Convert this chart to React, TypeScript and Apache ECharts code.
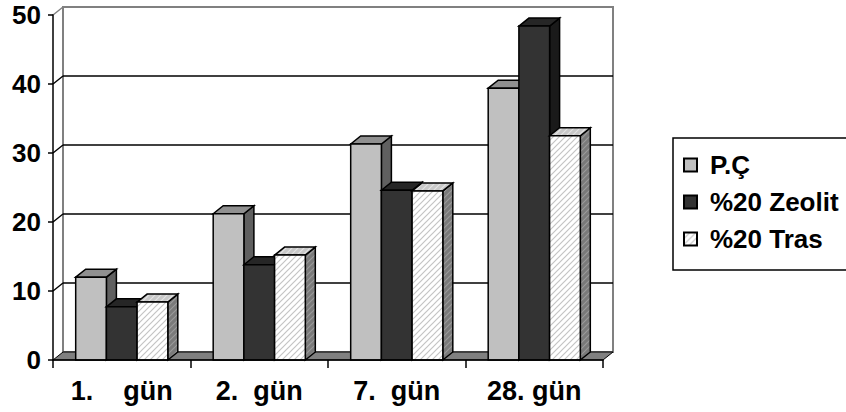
import React, { useEffect, useRef } from 'react';
import * as echarts from 'echarts';

const categories = ['1.\u00A0\u00A0\u00A0\u00A0gün', '2.\u00A0\u00A0gün', '7.\u00A0\u00A0gün', '28.\u00A0gün'];
const seriesNames = ['P.Ç', '%20 Zeolit', '%20 Tras'];
const pcValues = [12.0, 21.2, 31.3, 39.4];
const zeolitValues = [7.7, 13.8, 24.6, 48.4];
const trasValues = [8.4, 15.2, 24.5, 32.5];
const yTicks = [0, 10, 20, 30, 40, 50];

const FONT = 'Liberation Sans, Arial, sans-serif';
const DX = 10;
const DY = -8;

function hatch(bg: string, line: string, size = 6, lw = 1.2) {
  const c = document.createElement('canvas');
  c.width = size;
  c.height = size;
  const ctx = c.getContext('2d')!;
  ctx.fillStyle = bg;
  ctx.fillRect(0, 0, size, size);
  ctx.strokeStyle = line;
  ctx.lineWidth = lw;
  ctx.beginPath();
  ctx.moveTo(0, size);
  ctx.lineTo(size, 0);
  ctx.moveTo(-size / 2, size / 2);
  ctx.lineTo(size / 2, -size / 2);
  ctx.moveTo(size / 2, size * 1.5);
  ctx.lineTo(size * 1.5, size / 2);
  ctx.stroke();
  return { image: c, repeat: 'repeat' };
}

export default function App() {
  const ref = useRef<HTMLDivElement>(null);
  useEffect(() => {
    if (!ref.current) return;
    const chart = echarts.init(ref.current, null, { renderer: 'svg' });

    const faces = [
      { front: '#C0C0C0', top: '#909090', side: '#606060' },
      { front: '#333333', top: '#262626', side: '#1a1a1a' },
      {
        front: hatch('#ffffff', '#c4c4c4'),
        top: hatch('#c8c8c8', '#e4e4e4'),
        side: hatch('#7a7a7a', '#9a9a9a'),
      },
    ];
    const valueSets = [pcValues, zeolitValues, trasValues];

    const makeRender = (idx: number) => (params: any, api: any) => {
      const ci = api.value(0);
      const v = api.value(1);
      const base = api.coord([ci, 0]);
      const top = api.coord([ci, v]);
      const band = api.size([1, 0])[0];
      const bw = band * 0.2233;
      const x0 = base[0] - 1.5 * bw + idx * bw;
      const x1 = x0 + bw;
      const yb = base[1];
      const yt = top[1];
      const f = faces[idx];
      return {
        type: 'group',
        children: [
          {
            type: 'polygon',
            shape: { points: [[x1, yb], [x1 + DX, yb + DY], [x1 + DX, yt + DY], [x1, yt]] },
            style: { fill: f.side as any, stroke: '#000', lineWidth: 1.5 },
          },
          {
            type: 'polygon',
            shape: { points: [[x0, yt], [x0 + DX, yt + DY], [x1 + DX, yt + DY], [x1, yt]] },
            style: { fill: f.top as any, stroke: '#000', lineWidth: 1.5 },
          },
          {
            type: 'rect',
            shape: { x: x0, y: yt, width: bw, height: yb - yt },
            style: { fill: f.front as any, stroke: '#000', lineWidth: 1.5 },
          },
        ],
      };
    };

    const wallRender = (params: any, api: any) => {
      const cs = params.coordSys;
      const L = cs.x;
      const R = cs.x + cs.width;
      const T = cs.y;
      const B = cs.y + cs.height;
      const children: any[] = [
        {
          type: 'polygon',
          shape: { points: [[L, B], [L + DX, B + DY], [L + DX, T + DY], [L, T]] },
          style: { fill: '#fff' },
        },
        {
          type: 'rect',
          shape: { x: L + DX, y: T + DY, width: cs.width, height: cs.height },
          style: { fill: '#fff', stroke: '#808080', lineWidth: 2 },
        },
      ];
      yTicks.forEach((t) => {
        if (t === 0) return;
        const y = api.coord([0, t])[1];
        const isTop = t === yTicks[yTicks.length - 1];
        children.push({
          type: 'line',
          shape: { x1: L, y1: y, x2: L + DX, y2: y + DY },
          style: { stroke: isTop ? '#808080' : '#000', lineWidth: 1.5 },
        });
        if (!isTop) {
          children.push({
            type: 'line',
            shape: { x1: L + DX, y1: y + DY, x2: R + DX, y2: y + DY },
            style: { stroke: '#000', lineWidth: 1.5 },
          });
        }
      });
      children.push({
        type: 'polygon',
        shape: { points: [[L, B], [R, B], [R + DX, B + DY], [L + DX, B + DY]] },
        style: { fill: '#808080', stroke: '#000', lineWidth: 1 },
      });
      return { type: 'group', children };
    };

    const series: any[] = [
      {
        type: 'custom',
        name: '__wall',
        renderItem: wallRender,
        data: [[0, 0]],
        encode: { x: 0, y: 1 },
        silent: true,
        z: 1,
      },
    ];
    seriesNames.forEach((name, i) => {
      series.push({
        type: 'custom',
        name,
        renderItem: makeRender(i),
        data: valueSets[i].map((v, k) => [k, v]),
        encode: { x: 0, y: 1 },
        itemStyle: { color: faces[i].front, borderColor: '#000', borderWidth: 1 },
        z: 2 + i,
      });
    });

    chart.setOption({
      animation: false,
      backgroundColor: '#fff',
      grid: { left: 53, right: 243, top: 15, bottom: 52, containLabel: false },
      legend: {
        orient: 'vertical',
        left: 673,
        top: 138,
        data: seriesNames,
        icon: 'rect',
        itemWidth: 13,
        itemHeight: 13,
        itemGap: 11,
        padding: [14, 60, 18, 10],
        borderColor: '#000',
        borderWidth: 1.5,
        textStyle: {
          fontSize: 26,
          fontWeight: 'bold',
          color: '#000',
          fontFamily: FONT,
          padding: [0, 0, 0, 8],
        },
      },
      xAxis: {
        type: 'category',
        data: categories,
        boundaryGap: true,
        z: 10,
        axisLine: { show: true, lineStyle: { color: '#000', width: 1.5 } },
        axisTick: { show: true, length: 8, lineStyle: { color: '#000', width: 1.5 } },
        axisLabel: {
          fontSize: 27,
          fontWeight: 'bold',
          color: '#000',
          fontFamily: FONT,
          margin: 17,
        },
        splitLine: { show: false },
      },
      yAxis: {
        type: 'value',
        min: 0,
        max: 50,
        interval: 10,
        z: 10,
        axisLine: { show: true, lineStyle: { color: '#000', width: 1.5 } },
        axisTick: { show: true, length: 5, lineStyle: { color: '#000', width: 1.5 } },
        axisLabel: {
          fontSize: 26,
          fontWeight: 'bold',
          color: '#000',
          fontFamily: FONT,
          margin: 12,
        },
        splitLine: { show: false },
      },
      series,
    });

    return () => chart.dispose();
  }, []);

  return (
    <div
      ref={ref}
      style={{ position: 'fixed', left: 0, top: 0, width: 846, height: 412 }}
    />
  );
}
